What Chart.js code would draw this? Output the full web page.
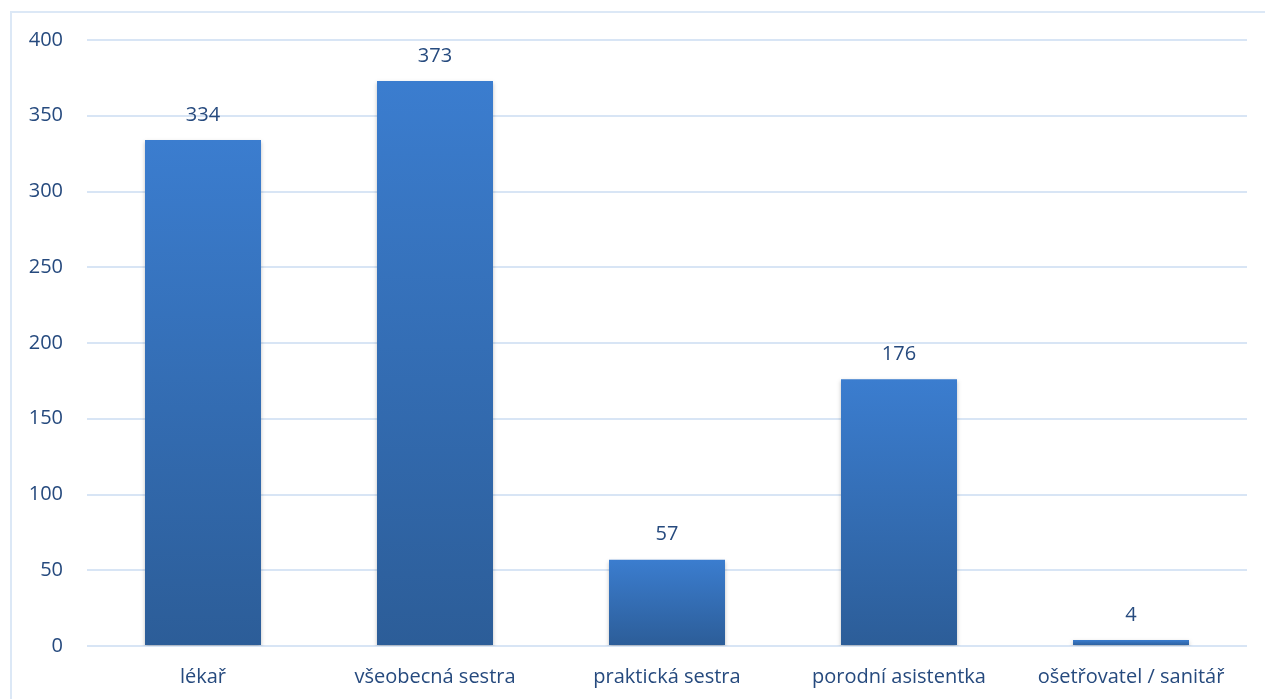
<!DOCTYPE html>
<html>
<head>
<meta charset="utf-8">
<script src="https://cdn.jsdelivr.net/npm/chart.js@4.4.1/dist/chart.umd.min.js"></script>
<style>
  html, body { margin: 0; padding: 0; background: #fff; }
  #wrap { position: relative; width: 1265px; height: 699px; overflow: hidden; }
  #frame { position: absolute; left: 10px; top: 11px; width: 1300px; height: 720px; border: 2px solid #dce8f6; box-sizing: border-box; }
  canvas { position: absolute; left: 0; top: 0; }
</style>
</head>
<body>
<div id="wrap">
  <div id="frame"></div>
  <canvas id="chart" width="1265" height="699"></canvas>
</div>
<script>
const categories = ['lékař', 'všeobecná sestra', 'praktická sestra', 'porodní asistentka', 'ošetřovatel / sanitář'];
const counts = [334, 373, 57, 176, 4];
const yTicks = [0, 50, 100, 150, 200, 250, 300, 350, 400];

const textColor = '#264a7e';
const fontFamily = "'Open Sans', 'Noto Sans', sans-serif";

function barFill(ctx) {
  const chart = ctx.chart;
  if (!chart.chartArea || ctx.type !== 'data') return '#3470b8';
  const y = chart.scales.y;
  const top = y.getPixelForValue(counts[ctx.dataIndex]);
  const bottom = y.getPixelForValue(0);
  if (!isFinite(top) || !isFinite(bottom) || top === bottom) return '#3470b8';
  const g = chart.ctx.createLinearGradient(0, top, 0, bottom);
  g.addColorStop(0, '#3b7dcf');
  g.addColorStop(1, '#2c5d98');
  return g;
}

const valueLabels = {
  id: 'valueLabels',
  afterDatasetsDraw(chart) {
    const c = chart.ctx;
    const meta = chart.getDatasetMeta(0);
    c.save();
    c.fillStyle = textColor;
    c.font = '20px ' + fontFamily;
    c.textAlign = 'center';
    c.textBaseline = 'middle';
    meta.data.forEach((bar, i) => {
      c.fillText(String(counts[i]), bar.x, bar.y - 25);
    });
    c.restore();
  }
};

const barShadow = {
  id: 'barShadow',
  beforeDatasetsDraw(chart) {
    chart.ctx.save();
    chart.ctx.shadowColor = 'rgba(0,0,0,0.25)';
    chart.ctx.shadowBlur = 4;
    chart.ctx.shadowOffsetY = 2;
  },
  afterDatasetsDraw(chart) {
    chart.ctx.restore();
  }
};

new Chart(document.getElementById('chart'), {
  type: 'bar',
  data: {
    labels: categories,
    datasets: [{
      data: counts,
      backgroundColor: barFill,
      borderWidth: 0,
      categoryPercentage: 1,
      barPercentage: 0.5
    }]
  },
  options: {
    responsive: false,
    animation: false,
    devicePixelRatio: 1,
    layout: { padding: { left: 0, right: 18, top: 40, bottom: 0 } },
    plugins: { legend: { display: false }, tooltip: { enabled: false } },
    scales: {
      x: {
        grid: { display: false, drawTicks: false },
        border: { display: false },
        ticks: { color: textColor, font: { family: fontFamily, size: 20 }, padding: 19, maxRotation: 0 },
        afterFit(scale) { scale.height = 53; }
      },
      y: {
        min: 0,
        max: 400,
        afterBuildTicks(scale) { scale.ticks = yTicks.map(v => ({ value: v })); },
        grid: { color: '#d8e5f5', lineWidth: 2, drawTicks: false },
        border: { display: false },
        ticks: { color: textColor, font: { family: fontFamily, size: 20 }, padding: 24 },
        afterFit(scale) { scale.width = 87; }
      }
    }
  },
  plugins: [barShadow, valueLabels]
});
</script>
</body>
</html>
